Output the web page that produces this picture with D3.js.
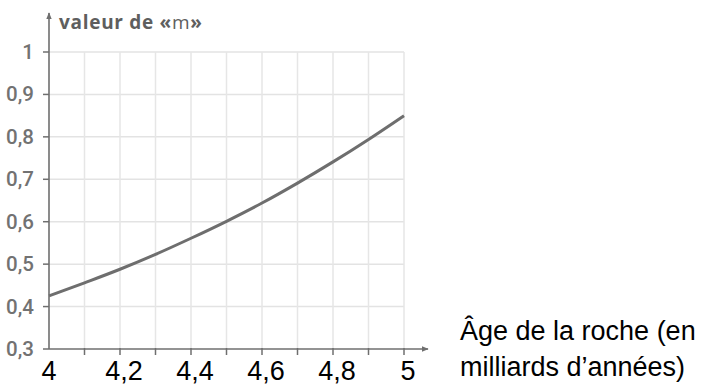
<!DOCTYPE html>
<html>
<head>
<meta charset="utf-8">
<script src="https://cdn.jsdelivr.net/npm/d3@7"></script>
<style>
  body { margin: 0; background: #fff; }
  svg { display: block; }
</style>
</head>
<body>
<div id="chart"></div>
<script>
// ages (milliards d'années) and values of "m"
const ages = [4.0, 4.1, 4.2, 4.3, 4.4, 4.5, 4.6, 4.7, 4.8, 4.9, 5.0]
const mValues = [0.425, 0.456, 0.488, 0.523, 0.561, 0.601, 0.644, 0.691, 0.741, 0.794, 0.85]

const yTicks = [0.3, 0.4, 0.5, 0.6, 0.7, 0.8, 0.9, 1]
const yTickLabels = ["0,3", "0,4", "0,5", "0,6", "0,7", "0,8", "0,9", "1"]
const xGrid = [4.1, 4.2, 4.3, 4.4, 4.5, 4.6, 4.7, 4.8, 4.9, 5.0]
const xTicks = [4, 4.2, 4.4, 4.6, 4.8, 5]
const xTickLabels = ["4", "4,2", "4,4", "4,6", "4,8", "5"]

const yTitle = ["valeur de «", "m", "»"]
const xTitle = ["Âge de la roche (en", "milliards d’années)"]

const W = 712, H = 392

const x = d3.scaleLinear().domain([4, 5]).range([49, 404])
const y = d3.scaleLinear().domain([0.3, 1]).range([349, 52])

const svg = d3.select("#chart")
	.append("svg")
	.attr("width", W)
	.attr("height", H)

const defs = svg.append("defs")
defs.append("marker")
	.attr("id", "arrow")
	.attr("viewBox", "0 0 10 10")
	.attr("refX", 9)
	.attr("refY", 5)
	.attr("markerWidth", 7)
	.attr("markerHeight", 7)
	.attr("markerUnits", "userSpaceOnUse")
	.attr("orient", "auto")
	.append("path")
	.attr("d", "M0,1 L10,5 L0,9 Z")
	.attr("fill", "#6f6f6f")

// grid
svg.append("g")
	.selectAll("line")
	.data(yTicks.slice(1))
	.enter()
	.append("line")
	.attr("x1", x(4))
	.attr("x2", x(5))
	.attr("y1", d => y(d))
	.attr("y2", d => y(d))
	.attr("stroke", "#e3e3e3")
	.attr("stroke-width", 1.5)

svg.append("g")
	.selectAll("line")
	.data(xGrid)
	.enter()
	.append("line")
	.attr("x1", d => x(d))
	.attr("x2", d => x(d))
	.attr("y1", y(1))
	.attr("y2", y(0.3))
	.attr("stroke", "#e6e6e6")
	.attr("stroke-width", 1.5)

// axes
svg.append("line")
	.attr("x1", x(4))
	.attr("x2", x(4))
	.attr("y1", y(0.3))
	.attr("y2", 13)
	.attr("stroke", "#6f6f6f")
	.attr("stroke-width", 1.6)
	.attr("marker-end", "url(#arrow)")

svg.append("line")
	.attr("x1", x(4))
	.attr("x2", 428)
	.attr("y1", y(0.3))
	.attr("y2", y(0.3))
	.attr("stroke", "#6f6f6f")
	.attr("stroke-width", 1.6)
	.attr("marker-end", "url(#arrow)")

// y ticks
svg.append("g")
	.selectAll("line")
	.data(yTicks)
	.enter()
	.append("line")
	.attr("x1", x(4) - 6)
	.attr("x2", x(4))
	.attr("y1", d => y(d))
	.attr("y2", d => y(d))
	.attr("stroke", "#6f6f6f")
	.attr("stroke-width", 1.5)

svg.append("g")
	.selectAll("text")
	.data(yTicks)
	.enter()
	.append("text")
	.attr("x", 34)
	.attr("y", d => y(d) + 7)
	.attr("text-anchor", "end")
	.attr("font-family", "Roboto, sans-serif")
	.attr("font-weight", 500)
	.attr("font-size", 20.5)
	.attr("fill", "#727272")
	.text((d, i) => yTickLabels[i])

// x ticks
svg.append("g")
	.selectAll("line")
	.data(xGrid)
	.enter()
	.append("line")
	.attr("x1", d => x(d))
	.attr("x2", d => x(d))
	.attr("y1", y(0.3) - 1)
	.attr("y2", y(0.3) + 6)
	.attr("stroke", "#6f6f6f")
	.attr("stroke-width", 1.5)

svg.append("g")
	.selectAll("text")
	.data(xTicks)
	.enter()
	.append("text")
	.attr("x", d => x(d) + (d === 4 ? 0 : 4))
	.attr("y", 380)
	.attr("text-anchor", "middle")
	.attr("font-family", "'Liberation Sans', Arial, sans-serif")
	.attr("font-size", 27)
	.attr("fill", "#000")
	.text((d, i) => xTickLabels[i])

// curve
const line = d3.line()
	.x((d, i) => x(ages[i]))
	.y(d => y(d))
	.curve(d3.curveMonotoneX)

svg.append("path")
	.datum(mValues)
	.attr("d", line)
	.attr("fill", "none")
	.attr("stroke", "#6e6e6e")
	.attr("stroke-width", 3)

// titles
const title = svg.append("text")
	.attr("x", 59)
	.attr("y", 29)
	.attr("font-family", "'Open Sans', sans-serif")
	.attr("font-weight", 700)
	.attr("font-size", 19)
	.attr("fill", "#5e5e5e")
	.attr("textLength", 143)
	.attr("lengthAdjust", "spacing")

title.selectAll("tspan")
	.data(yTitle)
	.enter()
	.append("tspan")
	.attr("font-weight", (d, i) => i === 1 ? 400 : 700)
	.text(d => d)

svg.append("g")
	.selectAll("text")
	.data(xTitle)
	.enter()
	.append("text")
	.attr("x", 460)
	.attr("y", (d, i) => 340 + i * 36)
	.attr("font-family", "'Liberation Sans', Arial, sans-serif")
	.attr("font-size", 27)
	.attr("fill", "#000")
	.text(d => d)
</script>
</body>
</html>
